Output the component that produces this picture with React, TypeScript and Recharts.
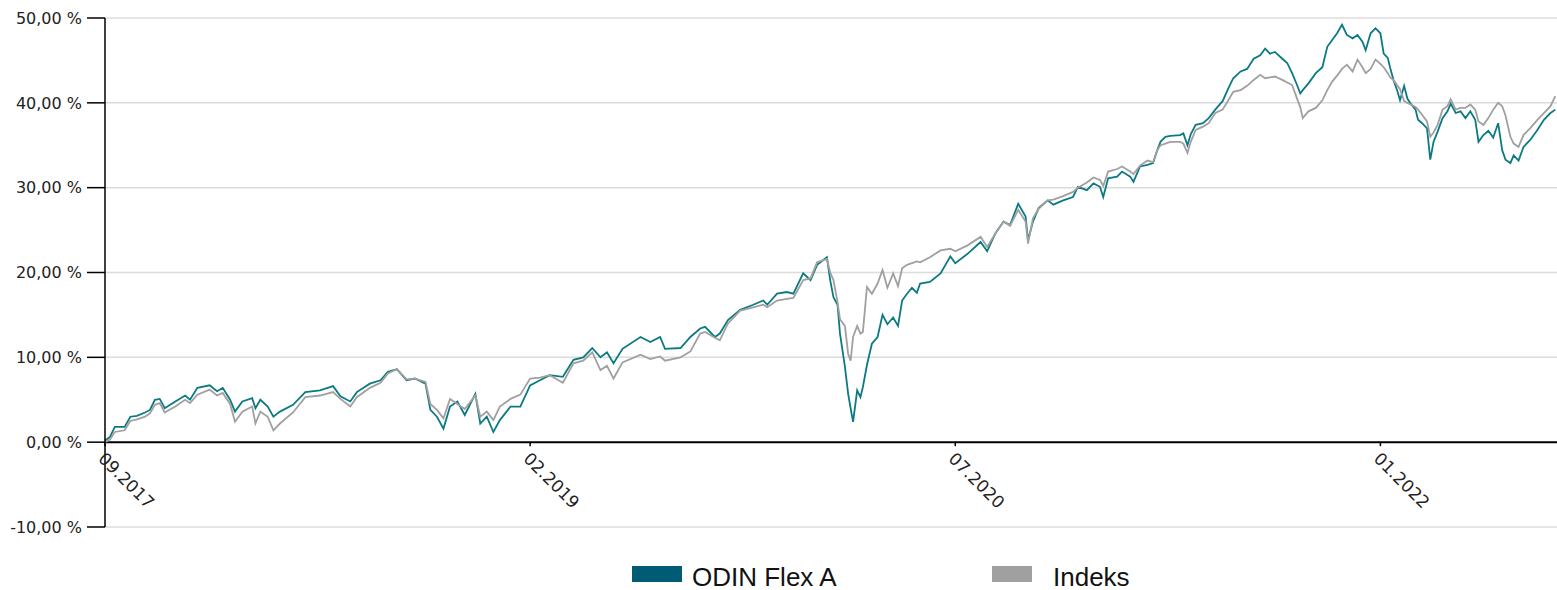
import React from 'react';
import { LineChart, Line, XAxis, YAxis, CartesianGrid, ReferenceLine } from 'recharts';

// days since 01.09.2017
const days = [
  0, 6, 12, 24, 31, 39, 49, 55, 61, 67,
  73, 86, 98, 104, 113, 128, 137, 144, 153, 159,
  168, 180, 184, 190, 199, 206, 214, 230, 245, 263,
  279, 288, 300, 308, 324, 337, 346, 357, 369, 379,
  392, 398, 406, 414, 422, 431, 440, 453, 459, 467,
  475, 483, 496, 508, 520, 532, 544, 560, 573, 585,
  596, 606, 614, 622, 633, 655, 667, 679, 685, 704,
  716, 728, 734, 746, 752, 762, 777, 793, 805, 810,
  822, 834, 842, 854, 863, 871, 883, 887, 891, 896,
  899, 905, 909, 912, 915, 920, 924, 927, 932, 938,
  945, 951, 957, 964, 970, 975, 981, 987, 993, 997,
  1009, 1022, 1034, 1040, 1055, 1071, 1079, 1089, 1099, 1107,
  1117, 1126, 1129, 1135, 1142, 1153, 1160, 1172, 1184, 1190,
  1201, 1209, 1217, 1221, 1227, 1238, 1244, 1254, 1258, 1266,
  1275, 1282, 1287, 1291, 1297, 1303, 1315, 1319, 1324, 1328,
  1334, 1343, 1350, 1358, 1367, 1374, 1380, 1389, 1397, 1405,
  1413, 1419, 1425, 1431, 1440, 1446, 1452, 1458, 1462, 1465,
  1472, 1481, 1489, 1495, 1501, 1507, 1513, 1519, 1526, 1532,
  1538, 1542, 1548, 1554, 1560, 1564, 1569, 1572, 1576, 1581,
  1584, 1589, 1593, 1597, 1603, 1606, 1611, 1617, 1621, 1625,
  1630, 1636, 1642, 1646, 1652, 1658, 1664, 1670, 1676, 1680,
  1686, 1692, 1698, 1704, 1709, 1713, 1719, 1723, 1729, 1735,
  1743, 1752, 1760, 1768, 1774,
];

const odinFlexA = [
  0.2, 0.6, 1.8, 1.8, 3.0, 3.1, 3.5, 3.8, 5.0, 5.1,
  4.0, 4.8, 5.5, 5.0, 6.4, 6.7, 6.0, 6.4, 5.0, 3.6,
  4.8, 5.2, 4.0, 5.0, 4.2, 3.0, 3.6, 4.4, 5.9, 6.1,
  6.6, 5.4, 4.8, 5.9, 6.9, 7.3, 8.3, 8.6, 7.3, 7.5,
  6.9, 3.8, 3.0, 1.6, 4.2, 4.8, 3.2, 5.7, 2.2, 3.0,
  1.2, 2.6, 4.2, 4.2, 6.7, 7.3, 7.9, 7.7, 9.7, 10.0,
  11.1, 10.0, 10.6, 9.3, 11.0, 12.4, 11.8, 12.4, 11.0, 11.1,
  12.4, 13.4, 13.6, 12.4, 12.8, 14.4, 15.6, 16.2, 16.7, 16.2,
  17.5, 17.7, 17.5, 19.9, 19.1, 20.9, 21.8, 19.1, 17.1, 16.2,
  12.8, 8.9, 5.7, 4.0, 2.4, 6.1, 5.3, 6.5, 9.1, 11.6,
  12.4, 15.0, 13.9, 14.7, 13.7, 16.7, 17.5, 18.2, 17.6, 18.7,
  18.9, 19.9, 21.9, 21.1, 22.2, 23.6, 22.5, 24.6, 26.0, 25.6,
  28.1, 26.6, 23.8, 26.0, 27.6, 28.5, 28.0, 28.5, 28.9, 30.1,
  29.7, 30.5, 30.1, 28.9, 31.1, 31.3, 31.9, 31.3, 30.7, 32.5,
  32.7, 32.9, 34.4, 35.4, 36.0, 36.1, 36.2, 36.4, 35.0, 36.3,
  37.4, 37.6, 38.2, 39.2, 40.2, 41.7, 42.9, 43.7, 44.0, 45.2,
  45.6, 46.4, 45.8, 46.0, 45.2, 44.7, 43.5, 42.1, 41.1, 41.5,
  42.3, 43.5, 44.2, 46.6, 47.4, 48.2, 49.2, 48.0, 47.6, 48.0,
  47.2, 46.2, 48.2, 48.8, 48.2, 45.8, 45.3, 44.1, 42.7, 41.3,
  40.3, 42.0, 40.5, 39.9, 39.2, 38.0, 37.6, 37.0, 33.3, 35.4,
  36.6, 38.2, 39.0, 39.9, 38.8, 39.0, 38.2, 39.0, 38.0, 35.4,
  36.2, 36.7, 35.9, 37.6, 34.4, 33.3, 32.9, 33.8, 33.2, 34.8,
  35.6, 36.8, 38.0, 38.8, 39.2,
];

const indeks = [
  0.0, 0.3, 1.2, 1.4, 2.5, 2.7, 3.0, 3.4, 4.4, 4.6,
  3.5, 4.2, 5.0, 4.6, 5.6, 6.2, 5.5, 5.8, 4.5, 2.4,
  3.6, 4.2, 2.2, 3.6, 3.0, 1.4, 2.2, 3.5, 5.3, 5.5,
  5.9, 5.1, 4.2, 5.3, 6.4, 7.0, 8.1, 8.6, 7.4, 7.5,
  7.1, 4.5, 3.8, 2.8, 5.1, 4.5, 3.9, 5.5, 3.0, 3.6,
  2.6, 4.2, 5.1, 5.6, 7.5, 7.6, 7.9, 7.0, 9.3, 9.6,
  10.6, 8.5, 9.0, 7.5, 9.4, 10.3, 9.8, 10.1, 9.6, 10.0,
  10.7, 12.8, 13.0, 12.3, 12.0, 14.0, 15.5, 15.9, 16.2, 15.9,
  16.7, 16.9, 17.0, 19.1, 19.3, 21.2, 21.6, 20.0, 19.1, 16.5,
  14.5, 13.7, 10.4, 9.6, 12.4, 13.7, 12.8, 13.0, 18.3, 17.5,
  18.7, 20.3, 18.2, 19.9, 18.4, 20.5, 20.9, 21.1, 21.3, 21.2,
  21.8, 22.6, 22.8, 22.5, 23.2, 24.2, 23.0, 24.6, 26.0, 25.5,
  27.4, 26.0, 23.4, 26.4, 27.5, 28.5, 28.6, 29.0, 29.5, 30.0,
  30.6, 31.2, 30.9, 30.2, 31.9, 32.2, 32.5, 31.9, 31.6, 32.6,
  33.2, 33.0, 34.4, 35.0, 35.2, 35.4, 35.4, 35.2, 34.1, 35.4,
  36.8, 37.2, 37.6, 38.8, 39.2, 40.3, 41.3, 41.5, 42.0, 42.7,
  43.3, 42.9, 43.0, 43.1, 42.7, 42.4, 42.1, 40.5, 39.5, 38.2,
  39.0, 39.4, 40.3, 41.5, 42.5, 43.2, 44.0, 44.5, 43.7, 45.1,
  44.2, 43.5, 44.0, 45.1, 44.6, 44.2, 43.5, 43.0, 42.7, 42.0,
  41.6, 40.2, 40.0, 39.8, 39.5, 39.2, 38.6, 37.8, 36.0, 36.5,
  37.4, 39.2, 39.6, 40.4, 39.2, 39.4, 39.4, 39.8, 39.2, 37.8,
  37.4, 38.2, 39.2, 40.0, 39.6, 38.5, 36.0, 35.2, 34.8, 36.2,
  37.0, 38.0, 38.8, 39.6, 40.8,
];

const xTicks = [0, 520, 1040, 1560];
const xTickLabels = ['09.2017', '02.2019', '07.2020', '01.2022'];
const yTicks = [-10, 0, 10, 20, 30, 40, 50];

const chartData = days.map((d, i) => ({ day: d, odin: odinFlexA[i], indeks: indeks[i] }));

const WIDTH = 1557;
const HEIGHT = 590;
const PLOT_TOP = 18;
const PLOT_BOTTOM = 527;
const Y_MIN = -10;
const Y_MAX = 50;
const axisFont = 'DejaVu Sans, Verdana, sans-serif';

const fmtPct = (v: number) => `${v.toFixed(2).replace('.', ',')} %`;

// x labels sit on the zero line, not at the bottom of the plot
const XTick = (props: any) => {
  const { x, y, payload } = props;
  const zeroY = y - ((PLOT_BOTTOM - PLOT_TOP) * (0 - Y_MIN)) / (Y_MAX - Y_MIN);
  const idx = xTicks.indexOf(payload.value);
  const ax = x + 1;
  const ay = zeroY + 9;
  return (
    <g>
      <line x1={x} x2={x} y1={zeroY} y2={zeroY + 4} stroke="#000" strokeWidth={1.5} />
      <text
        x={ax}
        y={ay}
        dy="0.72em"
        transform={`rotate(45, ${ax}, ${ay})`}
        textAnchor="start"
        fontFamily={axisFont}
        fontSize={17}
        fill="#222"
      >
        {idx >= 0 ? xTickLabels[idx] : ''}
      </text>
    </g>
  );
};

const legendText: React.CSSProperties = {
  position: 'absolute',
  top: 564,
  fontFamily: 'Liberation Sans, Arial, sans-serif',
  fontSize: 26,
  lineHeight: 1,
  color: '#111',
  whiteSpace: 'nowrap',
};

export default function App() {
  return (
    <div style={{ position: 'absolute', left: 0, top: 0, width: WIDTH, height: HEIGHT, background: '#fff' }}>
      <LineChart
        width={WIDTH}
        height={HEIGHT}
        data={chartData}
        margin={{ top: PLOT_TOP, right: 0, left: 0, bottom: 0 }}
      >
        <CartesianGrid horizontal vertical={false} stroke="#dcdcdc" strokeWidth={1.5} />
        <XAxis
          dataKey="day"
          type="number"
          domain={[0, 1776]}
          ticks={xTicks}
          interval={0}
          height={HEIGHT - PLOT_BOTTOM}
          axisLine={false}
          tickLine={false}
          tickSize={0}
          tickMargin={0}
          tick={<XTick />}
        />
        <YAxis
          type="number"
          domain={[Y_MIN, Y_MAX]}
          ticks={yTicks}
          interval={0}
          width={105}
          tickFormatter={fmtPct}
          axisLine={{ stroke: '#000', strokeWidth: 1.5 }}
          tickLine={{ stroke: '#000', strokeWidth: 1.5 }}
          tickSize={18}
          tickMargin={5}
          tick={{ fontFamily: axisFont, fontSize: 16, fill: '#222' }}
        />
        <ReferenceLine y={0} stroke="#000" strokeWidth={2} />
        <Line
          type="linear"
          dataKey="odin"
          name="ODIN Flex A"
          stroke="#0b7a82"
          strokeWidth={1.8}
          dot={false}
          isAnimationActive={false}
        />
        <Line
          type="linear"
          dataKey="indeks"
          name="Indeks"
          stroke="#a0a0a0"
          strokeWidth={1.8}
          dot={false}
          isAnimationActive={false}
        />
      </LineChart>
      <div style={{ position: 'absolute', left: 632, top: 566, width: 50, height: 16, background: '#005b75' }} />
      <span style={{ ...legendText, left: 692 }}>ODIN Flex A</span>
      <div style={{ position: 'absolute', left: 992, top: 566, width: 40, height: 16, background: '#a0a0a0' }} />
      <span style={{ ...legendText, left: 1053 }}>Indeks</span>
    </div>
  );
}
